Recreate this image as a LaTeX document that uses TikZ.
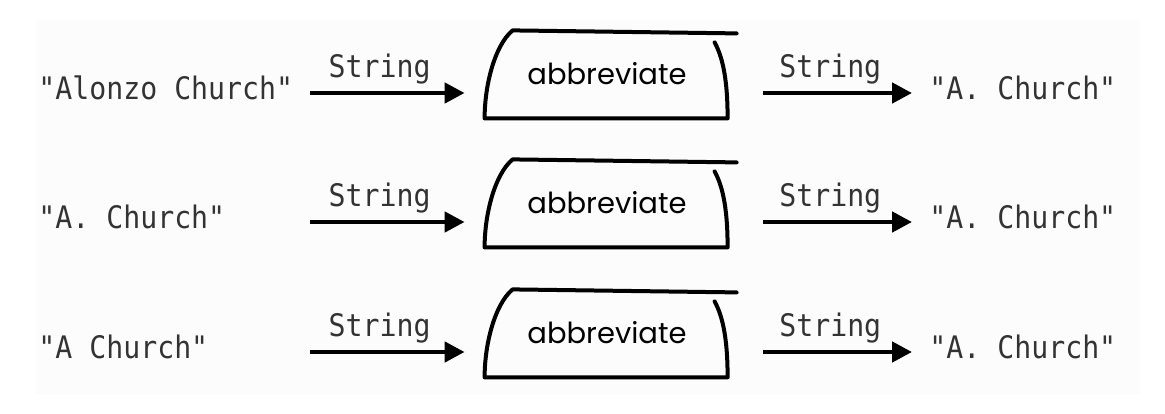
\documentclass[tikz,border=0pt]{standalone}
\usepackage{fontspec}
\setmonofont[FakeStretch=0.91]{DejaVu Sans Mono}
\newfontfamily\handfont{Poppins}
\usetikzlibrary{arrows.meta,positioning,calc}

\begin{document}
\begin{tikzpicture}[
    x=0.5pt, y=-0.5pt,
    >={Triangle[length=10pt,width=10pt]},
    val/.style={anchor=base west, inner sep=0pt, font=\ttfamily\fontsize{15.5}{18}\selectfont, text=black!80},
    lbl/.style={inner sep=0pt, font=\ttfamily\fontsize{15.5}{18}\selectfont, text=black!80},
    fn/.style={minimum width=122pt, minimum height=44pt, inner sep=0pt, font=\handfont\fontsize{14.5}{16}\selectfont},
    outline/.style={line width=2pt, line cap=round, line join=round},
    flow/.style={->, line width=2.3pt},
]
\useasboundingbox (0,0) rectangle (1165,413);
\fill[gray!2] (36,20) rectangle (1140,395);

% first call
\node[val] (in1) at (38,99) {"Alonzo Church"};
\node[fn] (f1) at (607,74) {abbreviate};
\node[val] (out1) at (929,99) {"A. Church"};
\coordinate (s1) at (310,93);
\draw[outline] (f1.south west) .. controls +(0,-33) and +(-18,15) .. ++(28,-88) -- ++(224,3)
      ++(-22,9) .. controls +(7,13) and +(0,-43) .. ++(13,76) -- (f1.south west);
\draw[flow] (s1) -- node[lbl, pos=.45, above=3.5pt] {String} ($(s1 -| f1.west)+(-20,0)$);
\draw[flow] ($(s1 -| f1.east)+(34,0)$) -- node[lbl, pos=.45, above=3.5pt] {String} ($(s1 -| out1.west)+(-17,0)$);

% second call
\node[val] (in2) at (38,228) {"A. Church"};
\node[fn] (f2) at (607,203) {abbreviate};
\node[val] (out2) at (929,228) {"A. Church"};
\coordinate (s2) at (310,222);
\draw[outline] (f2.south west) .. controls +(0,-33) and +(-18,15) .. ++(28,-88) -- ++(224,3)
      ++(-22,9) .. controls +(7,13) and +(0,-43) .. ++(13,76) -- (f2.south west);
\draw[flow] (s2) -- node[lbl, pos=.45, above=3.5pt] {String} ($(s2 -| f2.west)+(-20,0)$);
\draw[flow] ($(s2 -| f2.east)+(34,0)$) -- node[lbl, pos=.45, above=3.5pt] {String} ($(s2 -| out2.west)+(-17,0)$);

% third call
\node[val] (in3) at (38,358) {"A Church"};
\node[fn] (f3) at (607,333) {abbreviate};
\node[val] (out3) at (929,358) {"A. Church"};
\coordinate (s3) at (310,352);
\draw[outline] (f3.south west) .. controls +(0,-33) and +(-18,15) .. ++(28,-88) -- ++(224,3)
      ++(-22,9) .. controls +(7,13) and +(0,-43) .. ++(13,76) -- (f3.south west);
\draw[flow] (s3) -- node[lbl, pos=.45, above=3.5pt] {String} ($(s3 -| f3.west)+(-20,0)$);
\draw[flow] ($(s3 -| f3.east)+(34,0)$) -- node[lbl, pos=.45, above=3.5pt] {String} ($(s3 -| out3.west)+(-17,0)$);

\end{tikzpicture}
\end{document}
